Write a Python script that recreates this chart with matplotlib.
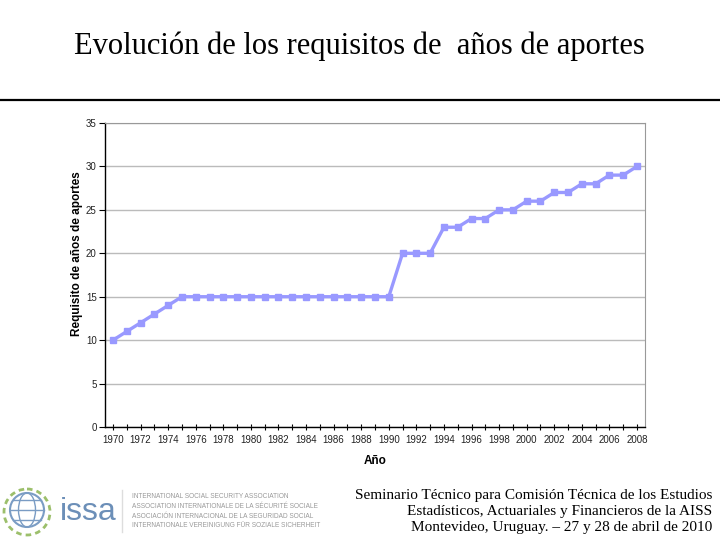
import matplotlib.pyplot as plt
import numpy as np
from matplotlib.patches import Circle, Ellipse

# Data
years = list(range(1970, 2009))
requisito = [10, 11, 12, 13, 14,
             15, 15, 15, 15, 15, 15, 15, 15, 15, 15, 15, 15, 15, 15, 15, 15,
             20, 20, 20,
             23, 23, 24, 24, 25, 25, 26, 26, 27, 27, 28, 28, 29, 29, 30]
year_labels = list(range(1970, 2009, 2))
y_ticks = [0, 5, 10, 15, 20, 25, 30, 35]

title = 'Evolución de los requisitos de  años de aportes'
footer = ['Seminario Técnico para Comisión Técnica de los Estudios',
          'Estadísticos, Actuariales y Financieros de la AISS',
          'Montevideo, Uruguay. – 27 y 28 de abril de 2010']
issa_lines = ['INTERNATIONAL SOCIAL SECURITY ASSOCIATION',
              'ASSOCIATION INTERNATIONALE DE LA SÉCURITÉ SOCIALE',
              'ASOCIACIÓN INTERNACIONAL DE LA SEGURIDAD SOCIAL',
              'INTERNATIONALE VEREINIGUNG FÜR SOZIALE SICHERHEIT']

plt.rcParams['font.family'] = ['Liberation Sans', 'DejaVu Sans']

fig = plt.figure(figsize=(7.2, 5.4), dpi=100)

# title and separator line
fig.text(359 / 720, 1 - 46 / 540, title, ha='center', va='center',
         fontsize=22, family=['Liberation Serif', 'DejaVu Serif'])
fig.add_artist(plt.Line2D([0, 1], [1 - 100 / 540] * 2, color='black', lw=1.6))

ax = fig.add_axes([105 / 720, 1 - 427 / 540, 540 / 720, 304 / 540])
ax.plot(years, requisito, color='#9999ff', lw=2.4, marker='s', ms=4.5,
        markerfacecolor='#9999ff', markeredgecolor='#9999ff', zorder=3)

ax.set_xlim(1969.42, 2008.58)
ax.set_ylim(0, 35)
ax.set_yticks(y_ticks)
ax.set_yticklabels([str(v) for v in y_ticks], fontsize=7, color='#222222')
ax.set_xticks(years, minor=True)
ax.set_xticks(year_labels)
ax.set_xticklabels([str(y) for y in year_labels], fontsize=7, color='#222222')
ax.tick_params(axis='x', which='both', direction='inout', length=5, width=0.8)
ax.tick_params(axis='y', direction='out', length=4, width=0.8, pad=2)
ax.yaxis.grid(True, color='#bbbbbb', lw=1)
ax.set_axisbelow(True)
for s in ['top', 'right']:
    ax.spines[s].set_color('#999999')
    ax.spines[s].set_linewidth(0.8)
for s in ['left', 'bottom']:
    ax.spines[s].set_color('black')
    ax.spines[s].set_linewidth(1)

ax.set_ylabel('Requisito de años de aportes', fontsize=8.5, fontweight='bold')
ax.yaxis.set_label_coords(-0.041, 0.57)
ax.set_xlabel('Año', fontsize=8.5, fontweight='bold', labelpad=7)

# footer text
for i, line in enumerate(footer):
    fig.text(712 / 720, 1 - (495 + i * 16.5) / 540, line, ha='right', va='center',
             fontsize=11, family=['Liberation Serif', 'DejaVu Serif'])

# simple logo
lax = fig.add_axes([0, 0, 1, 1], facecolor='none')
lax.set_xlim(0, 720)
lax.set_ylim(540, 0)
lax.axis('off')
lax.add_patch(Circle((27, 510), 17, fill=False, ec='#7a9cc4', lw=1.5))
lax.add_patch(Ellipse((27, 510), 17, 34, fill=False, ec='#7a9cc4', lw=1))
lax.plot([10, 44], [510, 510], color='#7a9cc4', lw=1)
lax.plot([13, 41], [500, 500], color='#7a9cc4', lw=1)
lax.plot([13, 41], [520, 520], color='#7a9cc4', lw=1)
lax.add_patch(Ellipse((27, 512), 46, 46, fill=False, ec='#9cbf6b', lw=2,
                      linestyle=(0, (2, 1.5))))
lax.text(60, 512, 'issa', fontsize=23, color='#6c8fb8', va='center', ha='left')
lax.plot([122, 122], [490, 532], color='#dddddd', lw=1)
for i, line in enumerate(issa_lines):
    lax.text(132, 497 + i * 9.5, line, fontsize=4.7, color='#999999', va='center')

fig.savefig('out.png', dpi=100)
